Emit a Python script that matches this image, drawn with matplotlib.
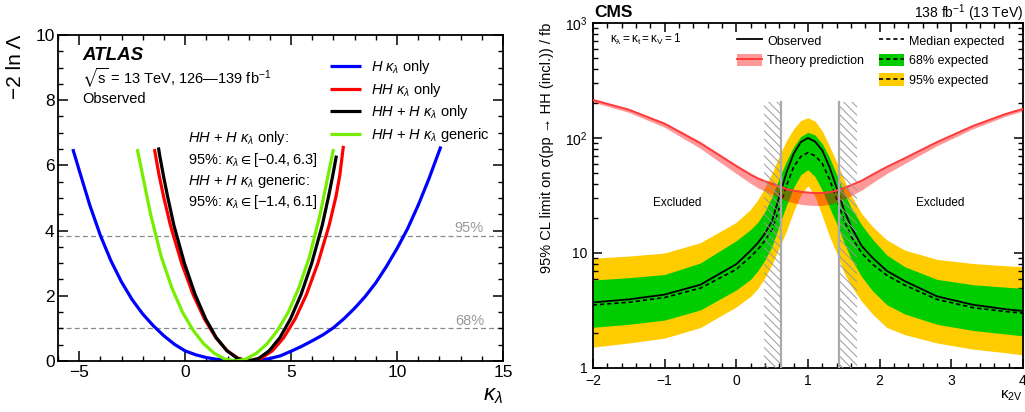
import numpy as np
import matplotlib
matplotlib.use('Agg')
import matplotlib.pyplot as plt
from matplotlib.patches import Patch
from matplotlib.lines import Line2D
from matplotlib.ticker import MultipleLocator, FixedLocator, FixedFormatter, LogLocator, NullFormatter

plt.rcParams['font.family'] = ['Liberation Sans', 'DejaVu Sans']
plt.rcParams['mathtext.fontset'] = 'custom'
plt.rcParams['mathtext.rm'] = 'Liberation Sans'
plt.rcParams['mathtext.it'] = 'Liberation Sans:italic'
plt.rcParams['mathtext.bf'] = 'Liberation Sans:bold'
plt.rcParams['mathtext.fallback'] = 'stixsans'
plt.rcParams['hatch.linewidth'] = 0.7

# ---------------- ATLAS panel data (kappa_lambda, -2 ln Lambda) ----------------
h_only_k = [-5.3, -5.0, -4.5, -4.0, -3.5, -3.0, -2.5, -2.0, -1.5, -1.0, -0.5, 0.0, 0.5, 1.0, 1.5, 2.0,
            2.6, 3.0, 3.5, 4.0, 4.5, 5.0, 5.5, 6.0, 6.5, 7.0, 7.5, 8.0, 8.5, 9.0, 9.5, 10.0, 10.5,
            11.0, 11.5, 12.07]
h_only_v = [6.5, 5.85, 4.78, 3.85, 3.07, 2.42, 1.88, 1.44, 1.08, 0.77, 0.51, 0.31, 0.19, 0.105, 0.05, 0.02,
            0.0, 0.005, 0.03, 0.075, 0.16, 0.3, 0.45, 0.62, 0.8, 1.02, 1.3, 1.62, 1.98, 2.4, 2.9, 3.45, 4.06,
            4.78, 5.58, 6.58]

hh_only_k = [-1.45, -1.23, -1.02, -0.695, -0.16, 0.375, 0.91, 1.45, 1.98, 2.515, 3.05,
             3.585, 4.12, 4.65, 5.19, 5.725, 6.26, 6.795, 7.12, 7.3, 7.47]
hh_only_v = [6.5, 5.7, 5.05, 4.16, 2.99, 2.04, 1.29, 0.714, 0.315, 0.078, 0.0,
             0.078, 0.315, 0.714, 1.29, 2.04, 2.99, 4.16, 5.05, 5.7, 6.6]

hhh_only_k = [-1.26, -1.2, -1.03, -0.83, -0.53, -0.03, 0.47, 0.97, 1.47, 1.97, 2.47, 2.97,
              3.47, 3.97, 4.47, 4.97, 5.47, 5.97, 6.47, 6.77, 6.97, 7.14]
hhh_only_v = [6.55, 6.3, 5.7, 5.05, 4.16, 2.99, 2.04, 1.29, 0.714, 0.315, 0.078, 0.0,
              0.078, 0.315, 0.714, 1.29, 2.04, 2.99, 4.16, 5.05, 5.7, 6.3]

hhh_gen_k = [-2.26, -1.93, -1.63, -1.38, -1.13, -0.63, -0.13, 0.37, 0.87, 1.37, 1.87, 2.37,
             2.87, 3.37, 3.87, 4.37, 4.87, 5.37, 5.87, 6.12, 6.37, 6.67, 7.0]
hhh_gen_v = [6.5, 5.45, 4.5, 3.85, 3.2, 2.25, 1.5, 0.95, 0.53, 0.24, 0.06, 0.0,
             0.06, 0.24, 0.53, 0.95, 1.5, 2.25, 3.2, 3.85, 4.5, 5.45, 6.5]

atlas_labels = [r'$H$ $\kappa_\lambda$ only', r'$HH$ $\kappa_\lambda$ only',
                r'$HH$ + $H$ $\kappa_\lambda$ only', r'$HH$ + $H$ $\kappa_\lambda$ generic']
atlas_colors = ['#0000ff', '#ff0000', '#000000', '#77ee00']
cl_levels = [1.0, 3.84]
cl_names = ['68%', '95%']

# ---------------- CMS panel data (kappa_2V, limit in fb) ----------------
k2v = [-2.0, -1.5, -1.0, -0.5, 0.0, 0.2, 0.3, 0.4, 0.5, 0.6, 0.7, 0.8, 0.9, 1.0, 1.1, 1.2, 1.3, 1.4,
       1.5, 1.6, 1.75, 1.9, 2.1, 2.35, 2.8, 3.3, 3.75, 4.0]
obs = [3.72, 3.95, 4.35, 5.3, 8.0, 10.5, 12.2, 14.8, 19, 31, 50, 73, 92, 100, 93, 78, 56, 37,
       24, 17, 11.5, 9.1, 7.0, 5.7, 4.2, 3.55, 3.25, 3.13]
exp_med = [3.53, 3.73, 4.1, 4.95, 7.2, 9.3, 10.7, 12.8, 16, 24.5, 38.5, 56, 69, 74.5, 70, 60, 44, 29.5,
           19.5, 14, 10.0, 8.0, 6.4, 5.25, 3.95, 3.35, 3.1, 3.0]
exp68_lo = [2.26, 2.4, 2.61, 3.2, 4.77, 5.9, 7.0, 8.7, 11.5, 17.5, 26, 37, 48, 53, 46, 35, 25, 18,
            12.5, 9.0, 6.2, 4.7, 3.55, 2.95, 2.4, 2.12, 1.98, 1.9]
exp68_hi = [5.82, 6.1, 6.5, 8.2, 12.8, 16, 18.5, 23, 31, 45, 63, 84, 103, 112, 106, 89, 68, 48,
            34, 25, 17.5, 13.2, 9.6, 7.6, 5.9, 5.3, 5.05, 4.93]
exp95_lo = [1.52, 1.65, 1.82, 2.25, 3.4, 4.2, 4.9, 6.1, 8.0, 11.2, 15.5, 23, 32, 38.5, 31, 21, 14, 10,
            6.8, 5.2, 3.8, 2.95, 2.25, 1.95, 1.65, 1.46, 1.36, 1.3]
exp95_hi = [9.0, 9.4, 10.0, 12.3, 18.5, 24, 29, 37, 50, 70, 95, 120, 142, 150, 140, 115, 85, 62,
            44, 32, 22, 17, 13, 10.6, 8.8, 8.1, 7.75, 7.6]
theory = [214, 176, 133, 90, 57, 48, 44.5, 42, 40, 38, 36, 34.8, 34, 33.5, 33.2, 33.2, 33.8, 35,
          36.7, 38.8, 42.5, 48, 56, 66.6, 92, 127, 161, 179]
theory_lo = [205, 167, 124, 81, 49, 40.3, 36.9, 34.4, 32.4, 30.4, 28.4, 27.3, 26.5, 26.1, 25.9, 25.9,
             26.5, 27.7, 29.4, 31.4, 35.3, 40.8, 49, 60, 85.6, 120, 154, 172]
theory_hi = [220, 181, 137, 93, 58.7, 49.4, 45.8, 43.3, 41.2, 39.1, 37.1, 35.8, 35.0, 34.5, 34.2, 34.2,
             34.8, 36.1, 37.8, 40.0, 43.8, 49.4, 57.7, 68.6, 94.8, 131, 166, 184]
excl_hatch = [(0.39, 0.62), (1.43, 1.68)]
excl_edges = [0.62, 1.43]
hatch_top = 205

# ---------------- figure ----------------
fig = plt.figure(figsize=(10.25, 4.12), dpi=100)
axL = fig.add_axes([0.0566, 0.1238, 0.4341, 0.7913])
axR = fig.add_axes([0.5785, 0.1068, 0.4195, 0.8374])

# ===== Left (ATLAS) =====
series = [(h_only_k, h_only_v), (hh_only_k, hh_only_v), (hhh_only_k, hhh_only_v), (hhh_gen_k, hhh_gen_v)]
handles = []
for (kx, vy), col, lab in zip(series, atlas_colors, atlas_labels):
    ln, = axL.plot(kx, vy, color=col, lw=2.3, label=lab, solid_capstyle='butt', solid_joinstyle='round')
    handles.append(ln)

for lev, nm in zip(cl_levels, cl_names):
    axL.axhline(lev, color='#888888', lw=0.9, ls=(0, (4, 2.5)), zorder=0)
    axL.text(14.1, lev + 0.24, nm, color='#999999', fontsize=10.5, ha='right', va='center')

axL.set_xlim(-6, 15)
axL.set_ylim(0, 10)
axL.xaxis.set_major_locator(MultipleLocator(5))
axL.xaxis.set_minor_locator(MultipleLocator(1))
axL.yaxis.set_major_locator(MultipleLocator(2))
axL.yaxis.set_minor_locator(MultipleLocator(0.5))
axL.tick_params(which='both', direction='in', top=True, right=True, labelsize=12.5)
axL.tick_params(which='major', length=7.5, width=1.1)
axL.tick_params(which='minor', length=3.8, width=1.0)
axL.tick_params(axis='x', pad=3)
axL.tick_params(axis='y', pad=2.5)
for s in axL.spines.values():
    s.set_linewidth(1.3)

axL.set_xlabel(r'$\kappa_\lambda$', fontsize=16, loc='right')
axL.xaxis.set_label_coords(1.0, -0.075)
axL.set_ylabel('\u22122 ln \u039b', fontsize=15, loc='top')
axL.yaxis.set_label_coords(-0.075, 1.0)

axL.text(-4.87, 9.36, 'ATLAS', fontsize=13.5, weight='bold', style='italic', va='center')
axL.text(-4.87, 8.68, '$\\sqrt{\\mathrm{s}}$ = 13 TeV, 126\u2014139 fb$^{-1}$', fontsize=10.5, va='center')
axL.text(-4.87, 8.04, 'Observed', fontsize=10.5, va='center')
axL.text(0.13, 6.84, r'$HH$ + $H$ $\kappa_\lambda$ only:', fontsize=10.5, va='center')
axL.text(0.13, 6.17, r'95%: $\kappa_\lambda \in [-0.4, 6.3]$', fontsize=10.5, va='center')
axL.text(0.13, 5.52, r'$HH$ + $H$ $\kappa_\lambda$ generic:', fontsize=10.5, va='center')
axL.text(0.13, 4.88, r'95%: $\kappa_\lambda \in [-1.4, 6.1]$', fontsize=10.5, va='center')

axL.legend(handles=handles, loc='upper left', bbox_to_anchor=(0.611, 0.93), frameon=False,
           fontsize=10.5, handlelength=2.1, handletextpad=0.7, labelspacing=0.33,
           borderpad=0, borderaxespad=0)

# ===== Right (CMS) =====
axR.set_yscale('log')
axR.fill_between(k2v, exp95_lo, exp95_hi, color='#ffcc00', lw=0, zorder=1)
axR.fill_between(k2v, exp68_lo, exp68_hi, color='#00cc00', lw=0, zorder=2)
axR.plot(k2v, exp_med, color='black', lw=1.2, ls=(0, (2.5, 1.8)), zorder=3)
axR.plot(k2v, obs, color='black', lw=1.3, zorder=4, solid_joinstyle='round')
axR.fill_between(k2v, theory_lo, theory_hi, color='#ff0000', alpha=0.4, lw=0, zorder=5)
axR.plot(k2v, theory, color='#ff3b3b', lw=1.4, zorder=6, solid_joinstyle='round')
for (a, b) in excl_hatch:
    axR.fill_between([a, b], [1, 1], [hatch_top, hatch_top], facecolor='none', edgecolor='#999999',
                     hatch='\\\\\\\\', lw=0, zorder=7)
for e in excl_edges:
    axR.plot([e, e], [1, hatch_top], color='#aaaaaa', lw=1.6, zorder=7)

axR.set_xlim(-2, 4)
axR.set_ylim(1, 1000)
axR.xaxis.set_major_locator(MultipleLocator(1))
axR.xaxis.set_minor_locator(MultipleLocator(0.2))
axR.yaxis.set_major_locator(FixedLocator([1, 10, 100, 1000]))
axR.yaxis.set_major_formatter(FixedFormatter(['1', '10', r'$10^{2}$', r'$10^{3}$']))
axR.yaxis.set_minor_locator(LogLocator(base=10, subs=np.arange(2, 10)))
axR.yaxis.set_minor_formatter(NullFormatter())
axR.tick_params(which='both', direction='in', top=True, right=True, labelsize=10)
axR.tick_params(which='major', length=6.5, width=1.1)
axR.tick_params(which='minor', length=3.3, width=1.0)
axR.tick_params(axis='x', pad=4)
axR.tick_params(axis='y', pad=4)
for s in axR.spines.values():
    s.set_linewidth(1.3)

axR.set_xlabel(r'$\mathrm{\kappa_{2V}}$', fontsize=11, loc='right')
axR.xaxis.set_label_coords(1.0, -0.06)
axR.set_ylabel('95% CL limit on \u03c3(pp \u2192 HH (incl.)) / fb', fontsize=10.5, loc='top')
axR.yaxis.set_label_coords(-0.09, 1.0)

axR.text(0.04, 0.951, r'$\mathrm{\kappa_{\lambda} = \kappa_{t} = \kappa_{V} = 1}$', transform=axR.transAxes,
         fontsize=8.5, va='center')
axR.text(-0.83, 27.2, 'Excluded', fontsize=8.5, ha='center', va='center')
axR.text(2.84, 27.2, 'Excluded', fontsize=8.5, ha='center', va='center')
fig.text(0.5795, 0.969, 'CMS', fontsize=12.5, weight='bold', va='center', ha='left')
fig.text(0.998, 0.968, r'138 fb$^{\mathrm{-1}}$ (13 TeV)', fontsize=10, va='center', ha='right')

h_obs = Line2D([], [], color='black', lw=1.3)
h_th = (Patch(facecolor='#ff0000', alpha=0.4, lw=0), Line2D([], [], color='#ff3b3b', lw=1.4))
h_med = Line2D([], [], color='black', lw=1.2, ls=(0, (2.5, 1.8)))
h_68 = (Patch(facecolor='#00cc00', lw=0), Line2D([], [], color='black', lw=1.2, ls=(0, (2.5, 1.8))))
h_95 = (Patch(facecolor='#ffcc00', lw=0), Line2D([], [], color='black', lw=1.2, ls=(0, (2.5, 1.8))))

leg1 = axR.legend([h_obs, h_th], ['Observed', 'Theory prediction'], loc='upper left',
                  bbox_to_anchor=(0.335, 0.968), frameon=False, fontsize=9, handlelength=2.0,
                  handleheight=1.2, handletextpad=0.4, labelspacing=0.48, borderpad=0, borderaxespad=0)
axR.add_artist(leg1)
axR.legend([h_med, h_68, h_95], ['Median expected', '68% expected', '95% expected'], loc='upper left',
           bbox_to_anchor=(0.665, 0.968), frameon=False, fontsize=9, handlelength=2.0,
           handleheight=1.2, handletextpad=0.4, labelspacing=0.48, borderpad=0, borderaxespad=0)

fig.savefig('out.png', dpi=100)
